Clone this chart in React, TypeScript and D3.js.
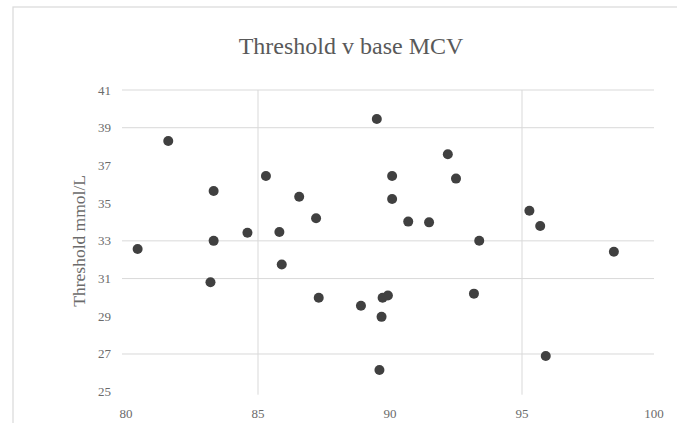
import React from "react";
import * as d3 from "d3";

const mcv: number[] = [
  81.6, 80.44, 83.32, 83.32, 83.2, 84.6, 85.3, 85.81, 85.9, 86.56,
  87.2, 89.5, 90.08, 90.08, 92.19, 92.5, 90.69, 91.48, 93.38, 95.28,
  95.69, 98.48, 87.3, 88.9, 89.68, 89.72, 89.92, 89.6, 93.18, 95.9,
];
const threshold: number[] = [
  38.3, 32.57, 35.64, 33.0, 30.8, 33.43, 36.44, 33.47, 31.75, 35.34,
  34.2, 39.46, 36.44, 35.22, 37.59, 36.3, 34.02, 33.98, 33.01, 34.6,
  33.79, 32.42, 29.98, 29.56, 28.97, 29.98, 30.1, 26.15, 30.2, 26.89,
];
const xTicks: number[] = [80, 85, 90, 95, 100];
const yTicks: number[] = [25, 27, 29, 31, 33, 35, 37, 39, 41];
const xGrid: number[] = [85, 95];
const yGrid: number[] = [27, 31, 33, 39, 41];
const title = "Threshold v base MCV";
const yLabel = "Threshold mmol/L";

export default function App() {
  const W = 677;
  const H = 423;
  const x = d3.scaleLinear().domain([80, 100]).range([126, 654]);
  const y = d3.scaleLinear().domain([25, 41]).range([391.7, 90]);
  const font = "'Liberation Serif', 'DejaVu Serif', serif";
  const points = mcv.map((v, i) => ({ x: v, y: threshold[i] }));
  return (
    <svg
      width={W}
      height={H}
      style={{ position: "absolute", left: 0, top: 0, background: "#fff" }}
    >
      <rect x={0} y={0} width={W} height={H} fill="#fff" />
      <rect x={13} y={7} width={W} height={H} fill="#fff" stroke="#d9d9d9" strokeWidth={1.2} />
      <text x={351} y={54} textAnchor="middle" fontFamily={font} fontSize={24} fill="#595959">
        {title}
      </text>
      {yGrid.map((t) => (
        <line key={"hy" + t} x1={122} x2={654} y1={y(t)} y2={y(t)} stroke="#d9d9d9" strokeWidth={1} />
      ))}
      {xGrid.map((t) => (
        <line key={"vx" + t} x1={x(t)} x2={x(t)} y1={y(41)} y2={y(25) + 3} stroke="#d9d9d9" strokeWidth={1} />
      ))}
      {yTicks.map((t) => (
        <text key={"yt" + t} x={111} y={y(t) + 4.5} textAnchor="end" fontFamily={font} fontSize={13} fill="#6b6b6b">
          {t}
        </text>
      ))}
      {xTicks.map((t) => (
        <text key={"xt" + t} x={x(t)} y={418} textAnchor="middle" fontFamily={font} fontSize={13} fill="#6b6b6b">
          {t}
        </text>
      ))}
      <text
        transform={`translate(85, ${(y(41) + y(25)) / 2}) rotate(-90)`}
        textAnchor="middle"
        fontFamily={font}
        fontSize={17.5}
        fill="#6b6b6b"
      >
        {yLabel}
      </text>
      {points.map((p, i) => (
        <circle key={i} cx={x(p.x)} cy={y(p.y)} r={5} fill="#404040" />
      ))}
    </svg>
  );
}
